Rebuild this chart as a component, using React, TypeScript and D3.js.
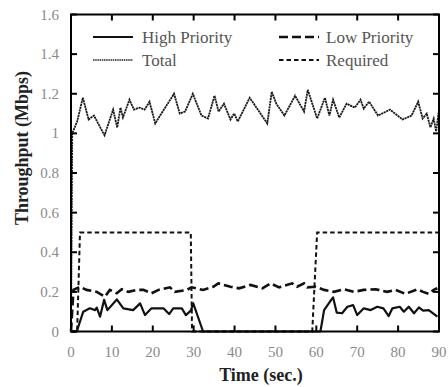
import * as d3 from "d3";

// [time (sec), throughput (Mbps)]
const total: [number, number][] = [
  [0, 0], [0.3, 1.0], [1.5, 1.06], [2.9, 1.18], [4.3, 1.07], [5.6, 1.09], [8.2, 0.99],
  [10.3, 1.12], [11.3, 1.03], [12.1, 1.13], [12.7, 1.08], [14.3, 1.17], [15.4, 1.12],
  [16.8, 1.13], [18, 1.12], [19.2, 1.16], [20.6, 1.05], [22.1, 1.1], [25.2, 1.2],
  [26.6, 1.1], [27.9, 1.11], [29.8, 1.2], [31.9, 1.09], [33.5, 1.075], [35.1, 1.19],
  [36.1, 1.11], [37.4, 1.15], [39.0, 1.07], [39.9, 1.1], [40.8, 1.06], [43.7, 1.18],
  [48.0, 1.05], [49.1, 1.21], [50.2, 1.15], [52.2, 1.09], [54.8, 1.19], [57, 1.11],
  [57.9, 1.22], [60.2, 1.075], [62.1, 1.18], [63.2, 1.09], [64.1, 1.17], [65.6, 1.08],
  [67.4, 1.15], [69.4, 1.13], [70.8, 1.17], [71.6, 1.125], [72.9, 1.16], [75.1, 1.09],
  [78, 1.12], [81.1, 1.07], [83.3, 1.09], [84.9, 1.16], [86.0, 1.075], [87, 1.1],
  [87.9, 1.03], [88.7, 1.075], [89.3, 1.01], [90, 1.12],
];

const highPriority: [number, number][] = [
  [0, 0], [1.4, 0], [3.0, 0.1], [4.6, 0.117], [5.9, 0.108], [6.3, 0.12], [7.1, 0.075],
  [8.1, 0.16], [8.9, 0.108], [11.2, 0.162], [12.8, 0.117], [15.2, 0.108], [16.9, 0.142],
  [18.1, 0.083], [19.7, 0.117], [22.6, 0.117], [24.0, 0.088], [25, 0.117], [27.1, 0.117],
  [28.1, 0.083], [29.3, 0.105], [29.9, 0.142], [32.3, 0], [61.0, 0], [61.9, 0.108],
  [63.3, 0.15], [64.1, 0.172], [65, 0.095], [66.3, 0.092], [67.6, 0.125], [69, 0.133],
  [70, 0.083], [71.6, 0.117], [73.3, 0.108], [74.9, 0.125], [76.4, 0.117], [77.7, 0.078],
  [78.6, 0.117], [80.4, 0.125], [81.4, 0.1], [82.6, 0.125], [83.9, 0.092], [85.1, 0.122],
  [86.1, 0.105], [87.5, 0.108], [89.6, 0.075],
];

const lowPriority: [number, number][] = [
  [0, 0], [0.6, 0.21], [2.2, 0.226], [3.8, 0.21], [6.3, 0.2], [8.3, 0.175], [9.5, 0.21],
  [11.2, 0.193], [12.4, 0.213], [14.0, 0.2], [16.1, 0.21], [17.7, 0.21], [19.7, 0.193],
  [21.4, 0.21], [24.2, 0.223], [25.4, 0.2], [28.3, 0.21], [29.5, 0.223], [32.3, 0.21],
  [34.8, 0.226], [36.0, 0.243], [37.4, 0.235], [39.0, 0.226], [41.1, 0.218], [43.9, 0.235],
  [46.8, 0.218], [48.8, 0.243], [50.9, 0.223], [54.1, 0.243], [55.3, 0.226], [57.0, 0.243],
  [57.8, 0.223], [59.8, 0.226], [61.9, 0.21], [64.3, 0.2], [66.7, 0.213], [69.2, 0.2],
  [71.6, 0.21], [74.5, 0.213], [77.3, 0.2], [79.4, 0.21], [81.8, 0.19], [84.7, 0.213],
  [86.1, 0.2], [87.5, 0.19], [88.7, 0.21], [89.6, 0.218],
];

const required: [number, number][] = [
  [0, 0], [1.5, 0], [2.2, 0.5], [29.3, 0.5], [29.6, 0], [59.0, 0], [60.2, 0.5], [90, 0.5],
];

const xTicks = [0, 10, 20, 30, 40, 50, 60, 70, 80, 90];
const yTicks = [0, 0.2, 0.4, 0.6, 0.8, 1, 1.2, 1.4, 1.6];

const width = 448;
const height = 387;
const left = 71;
const right = 439;
const top = 14.5;
const bottom = 331.5;

const serif = "'Liberation Serif', 'DejaVu Serif', serif";

export default function App() {
  const x = d3.scaleLinear().domain([0, 90]).range([left, right]);
  const y = d3.scaleLinear().domain([0, 1.6]).range([bottom, top]);

  const line = d3
    .line<[number, number]>()
    .x((d) => x(d[0]))
    .y((d) => y(d[1]));

  const legend = [
    { label: "High Priority", lx: 93, tx: 142, ly: 37, dash: undefined, w: 2.2, color: "#111" },
    { label: "Total", lx: 93, tx: 142, ly: 60, dash: "1.5,0.7", w: 1.6, color: "#222" },
    { label: "Low Priority", lx: 279, tx: 326, ly: 37, dash: "9,4", w: 2.6, color: "#111" },
    { label: "Required", lx: 279, tx: 326, ly: 60, dash: "4.5,3", w: 2, color: "#111" },
  ];

  return (
    <div style={{ position: "absolute", left: 0, top: 0 }}>
      <svg width={width} height={height} style={{ display: "block", background: "#fff" }}>
        <path d={line(total) || undefined} fill="none" stroke="#1a1a1a" strokeWidth={1.8} strokeDasharray="2.2,0.6" />
        <path d={line(required) || undefined} fill="none" stroke="#111" strokeWidth={2} strokeDasharray="4.5,3" />
        <path d={line(lowPriority) || undefined} fill="none" stroke="#111" strokeWidth={2.6} strokeDasharray="9,4" />
        <path d={line(highPriority) || undefined} fill="none" stroke="#111" strokeWidth={2.2} strokeLinejoin="round" />

        {/* frame */}
        <rect x={left} y={top} width={right - left} height={bottom - top} fill="none" stroke="#000" strokeWidth={2} />

        {xTicks.map((t) => (
          <g key={"x" + t}>
            <line x1={x(t)} x2={x(t)} y1={bottom} y2={bottom - 6} stroke="#000" strokeWidth={2} />
            <line x1={x(t)} x2={x(t)} y1={top} y2={top + 6} stroke="#000" strokeWidth={2} />
            <text x={x(t)} y={357} textAnchor="middle" fontFamily={serif} fontSize={15} fill="#8a8a8a">
              {t}
            </text>
          </g>
        ))}
        {yTicks.map((t) => (
          <g key={"y" + t}>
            <line x1={left} x2={left + 6} y1={y(t)} y2={y(t)} stroke="#000" strokeWidth={2} />
            <line x1={right} x2={right - 6} y1={y(t)} y2={y(t)} stroke="#000" strokeWidth={2} />
            <text x={59} y={y(t) + 5} textAnchor="end" fontFamily={serif} fontSize={15} fill="#8a8a8a">
              {t}
            </text>
          </g>
        ))}

        {legend.map((l) => (
          <g key={l.label}>
            <line x1={l.lx} x2={l.lx + 40} y1={l.ly} y2={l.ly} stroke={l.color} strokeWidth={l.w} strokeDasharray={l.dash} />
            <text x={l.tx} y={l.ly + 6} fontFamily={serif} fontSize={17} fill="#555">
              {l.label}
            </text>
          </g>
        ))}

        <text x={(left + right) / 2 + 6} y={381} textAnchor="middle" fontFamily={serif} fontSize={18} fontWeight="bold" fill="#222">
          Time (sec.)
        </text>
        <text
          transform={`translate(28, ${(top + bottom) / 2 - 25}) rotate(-90)`}
          textAnchor="middle"
          fontFamily={serif}
          fontSize={18}
          fontWeight="bold"
          fill="#222"
        >
          Throughput (Mbps)
        </text>
      </svg>
    </div>
  );
}
